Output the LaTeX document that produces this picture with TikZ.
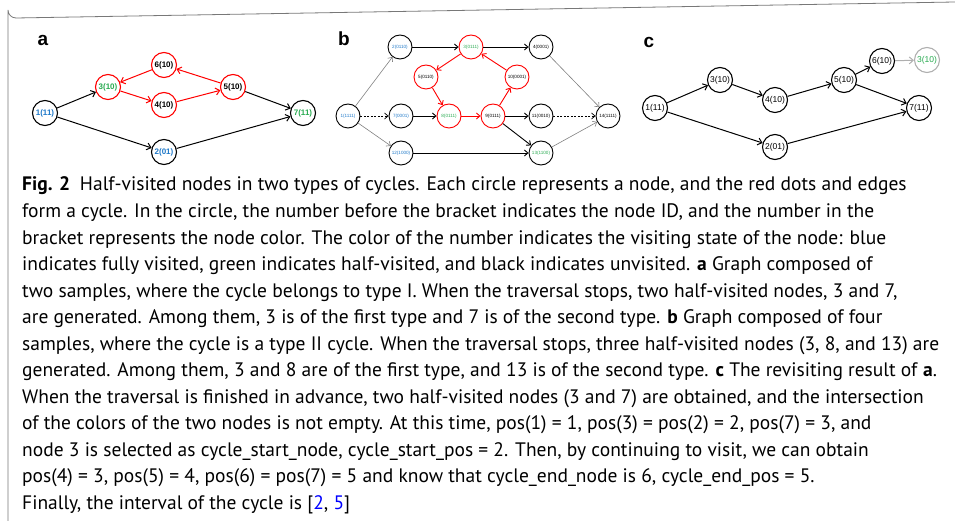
\documentclass[tikz,border=0pt]{standalone}
\usepackage{fontspec}
\setsansfont{Liberation Sans}
\newfontfamily\capfont{PT Sans}
\usetikzlibrary{arrows.meta}
\definecolor{vblue}{RGB}{30,120,200}
\definecolor{vgreen}{RGB}{40,170,80}
\definecolor{lgray}{RGB}{175,175,175}
\definecolor{frame}{RGB}{120,120,120}
\begin{document}
\begin{tikzpicture}[x=1pt,y=-1pt,
  na/.style={circle,draw,line width=1.1pt,minimum size=25pt,inner sep=0pt,font=\sffamily\bfseries\fontsize{8}{8}\selectfont},
  nb/.style={circle,draw,line width=0.9pt,minimum size=24pt,inner sep=0pt,font=\sffamily\fontsize{4.6}{5}\selectfont},
  nc/.style={circle,draw,line width=1.1pt,minimum size=25pt,inner sep=0pt,font=\sffamily\fontsize{8.5}{9}\selectfont},
  ea/.style={line width=1pt,-{Straight Barb[length=4pt,width=7pt]}},
  eb/.style={line width=0.9pt,-{Straight Barb[length=3.5pt,width=6pt]}},
  eg/.style={eb,line width=0.6pt,draw=gray},
  ed/.style={eb,line width=0.7pt,dash pattern=on 2pt off 1.5pt},
  plabel/.style={font=\sffamily\bfseries\fontsize{19}{19}\selectfont,inner sep=0pt},
  capline/.style={anchor=base west,inner sep=0pt,font=\capfont\fontsize{19.5}{26}\selectfont}
]
\useasboundingbox (0,0) rectangle (955,521);
% frame
\draw[frame,line width=0.8pt] (8,521) -- (8,10) arc[start angle=180,end angle=90,radius=8] -- (955,2);

% ---------- panel a ----------
\node[plabel] (la) at (43,40) {a};
\node[na,text=vblue] (a1) at (45,113) {1(11)};
\node[na,draw=red,text=vgreen] (a3) at (108,87) {3(10)};
\node[na,draw=red] (a6) at (164,65) {6(10)};
\node[na,draw=red] (a4) at (164,105) {4(10)};
\node[na,draw=red] (a5) at (233,87) {5(10)};
\node[na,text=vgreen] (a7) at (303,113) {7(11)};
\node[na,text=vblue] (a2) at (164,152) {2(01)};
\draw[ea] (a1) -- (a3);
\draw[ea] (a1) -- (a2);
\draw[ea,red] (a3) -- (a4);
\draw[ea,red] (a4) -- (a5);
\draw[ea,red] (a5) -- (a6);
\draw[ea,red] (a6) -- (a3);
\draw[ea] (a5) -- (a7);
\draw[ea] (a2) -- (a7);

% ---------- panel b ----------
\node[plabel] (lb) at (344,39) {b};
\node[nb,text=vblue] (b1) at (348,116) {1(1111)};
\node[nb,text=vblue] (b2) at (400,47) {2(0110)};
\node[nb,text=vblue] (b7) at (401,116) {7(0001)};
\node[nb,text=vblue] (b12) at (401,153) {12(1000)};
\node[nb,draw=red,text=vgreen] (b3) at (471,47) {3(0111)};
\node[nb,draw=red] (b5) at (426,77) {5(0110)};
\node[nb,draw=red,text=vgreen] (b8) at (449,116) {8(0111)};
\node[nb,draw=red] (b9) at (493,116) {9(0111)};
\node[nb,draw=red] (b10) at (517,77) {10(0001)};
\node[nb] (b4) at (541,47) {4(0001)};
\node[nb] (b11) at (541,116) {11(0010)};
\node[nb,text=vgreen] (b13) at (541,153) {13(1100)};
\node[nb] (b14) at (608,116) {14(1111)};
\draw[eg] (b1) -- (b2);
\draw[ed] (b1) -- (b7);
\draw[eg] (b1) -- (b12);
\draw[eb] (b2) -- (b3);
\draw[eb] (b3) -- (b4);
\draw[eb,red] (b3) -- (b5);
\draw[eb,red] (b5) -- (b8);
\draw[eb] (b7) -- (b8);
\draw[eb,red] (b8) -- (b9);
\draw[eb,red] (b9) -- (b10);
\draw[eb,red] (b10) -- (b3);
\draw[eb] (b9) -- (b11);
\draw[eb] (b9) -- (b13);
\draw[eb] (b12) -- (b13);
\draw[eg] (b4) -- (b14);
\draw[ed] (b11) -- (b14);
\draw[eg] (b13) -- (b14);

% ---------- panel c ----------
\node[plabel] (lc) at (649,42) {c};
\node[nc] (c1) at (655,108) {1(11)};
\node[nc] (c3) at (720,80) {3(10)};
\node[nc] (c4) at (775,100) {4(10)};
\node[nc] (c5) at (844,80) {5(10)};
\node[nc] (c6) at (882,61) {6(10)};
\node[nc,draw=lgray,text=vgreen] (c3b) at (927,60) {3(10)};
\node[nc] (c7) at (919,108) {7(11)};
\node[nc] (c2) at (775,147) {2(01)};
\draw[ea] (c1) -- (c3);
\draw[ea] (c3) -- (c4);
\draw[ea] (c4) -- (c5);
\draw[ea] (c5) -- (c6);
\draw[ea] (c5) -- (c7);
\draw[ea] (c1) -- (c2);
\draw[ea] (c2) -- (c7);
\draw[ea,lgray] (c6) -- (c3b);

% ---------- caption ----------
\node[capline] (t1) at (22,191) {\textbf{Fig. 2}\enspace Half-visited nodes in two types of cycles. Each circle represents a node, and the red dots and edges};
\node[capline] (t2) at (22,217.5) {form a cycle. In the circle, the number before the bracket indicates the node ID, and the number in the};
\node[capline] (t3) at (22,244) {bracket represents the node color. The color of the number indicates the visiting state of the node: blue};
\node[capline] (t4) at (22,270.5) {indicates fully visited, green indicates half-visited, and black indicates unvisited. \textbf{a} Graph composed of};
\node[capline] (t5) at (22,297) {two samples, where the cycle belongs to type I. When the traversal stops, two half-visited nodes, 3 and 7,};
\node[capline] (t6) at (22,323.5) {are generated. Among them, 3 is of the first type and 7 is of the second type. \textbf{b} Graph composed of four};
\node[capline] (t7) at (22,350) {samples, where the cycle is a type II cycle. When the traversal stops, three half-visited nodes (3, 8, and 13) are};
\node[capline] (t8) at (22,376.5) {generated. Among them, 3 and 8 are of the first type, and 13 is of the second type. \textbf{c} The revisiting result of \textbf{a}.};
\node[capline] (t9) at (22,403) {When the traversal is finished in advance, two half-visited nodes (3 and 7) are obtained, and the intersection};
\node[capline] (t10) at (22,429.5) {of the colors of the two nodes is not empty. At this time, pos(1) = 1, pos(3) = pos(2) = 2, pos(7) = 3, and};
\node[capline] (t11) at (22,456) {node 3 is selected as cycle\_start\_node, cycle\_start\_pos = 2. Then, by continuing to visit, we can obtain};
\node[capline] (t12) at (22,482.5) {pos(4) = 3, pos(5) = 4, pos(6) = pos(7) = 5 and know that cycle\_end\_node is 6, cycle\_end\_pos = 5.};
\node[capline] (t13) at (22,509) {Finally, the interval of the cycle is [\textcolor{blue}{2}, \textcolor{blue}{5}]};
\end{tikzpicture}
\end{document}
